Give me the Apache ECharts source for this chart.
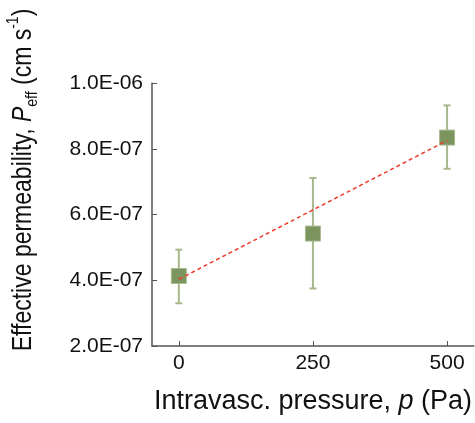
<!DOCTYPE html>
<html>
<head>
<meta charset="utf-8">
<script src="https://cdn.jsdelivr.net/npm/echarts@6/dist/echarts.min.js"></script>
<style>
html,body{margin:0;padding:0;background:#fff;}
#chart{width:475px;height:423px;}
</style>
</head>
<body>
<div id="chart"></div>
<script>
// Data
var pressures = [0, 250, 500];
var permeability = [4.13e-7, 5.42e-7, 8.34e-7];
var errLow = [3.30e-7, 3.75e-7, 7.39e-7];
var errHigh = [4.93e-7, 7.11e-7, 9.32e-7];
var fitX = [0, 500];
var fitY = [4.03e-7, 8.25e-7];
var xTickValues = [0, 250, 500];

function fmtSci(v) {
  if (v === 0) return '0';
  var e = Math.floor(Math.log10(Math.abs(v)) + 1e-9);
  var m = v / Math.pow(10, e);
  var sign = e < 0 ? '-' : '+';
  var ea = Math.abs(e);
  return m.toFixed(1) + 'E' + sign + (ea < 10 ? '0' + ea : '' + ea);
}

var chart = echarts.init(document.getElementById('chart'), null, {renderer: 'canvas'});
var font = 'Liberation Sans, Arial, Helvetica, sans-serif';
var axisColor = '#555555';
var textColor = '#111111';

var option = {
  backgroundColor: '#ffffff',
  animation: false,
  grid: {left: 152, width: 324, top: 83, bottom: 77, containLabel: false},
  xAxis: {
    type: 'value',
    min: -50,
    max: 550,
    name: '{n|Intravasc. pressure, }{i|p}{n| (Pa)}',
    nameLocation: 'middle',
    nameGap: 42,
    nameTextStyle: {
      rich: {
        n: {fontFamily: font, fontSize: 27, color: textColor},
        i: {fontFamily: font, fontSize: 27, color: textColor, fontStyle: 'italic'}
      }
    },
    splitLine: {show: false},
    axisLine: {show: true, onZero: false, lineStyle: {color: axisColor, width: 1.5}},
    axisTick: {show: true, inside: true, length: 5, customValues: xTickValues, lineStyle: {color: axisColor, width: 1}},
    axisLabel: {customValues: xTickValues, margin: 7, fontFamily: font, fontSize: 21, color: textColor}
  },
  yAxis: {
    type: 'value',
    min: 2e-7,
    max: 1e-6,
    interval: 2e-7,
    splitLine: {show: false},
    axisLine: {show: true, onZero: false, lineStyle: {color: axisColor, width: 1.5}},
    axisTick: {show: true, inside: true, length: 5, lineStyle: {color: axisColor, width: 1}},
    axisLabel: {margin: 9, fontFamily: font, fontSize: 21, color: textColor, formatter: fmtSci}
  },
  graphic: [{
    type: 'text',
    x: 23,
    y: 180,
    rotation: Math.PI / 2,
    scaleY: 1.2,
    style: {
      text: '{n|Effective permeability, }{i|P}{sub|eff}{n| (cm s}{sup|-1}{n|)}',
      align: 'center',
      verticalAlign: 'middle',
      rich: {
        n: {fontFamily: font, fontSize: 23, lineHeight: 30, fill: textColor, verticalAlign: 'middle'},
        i: {fontFamily: font, fontSize: 23, lineHeight: 30, fill: textColor, fontStyle: 'italic', verticalAlign: 'middle'},
        sub: {fontFamily: font, fontSize: 14, lineHeight: 14, fill: textColor, verticalAlign: 'bottom'},
        sup: {fontFamily: font, fontSize: 14, lineHeight: 14, fill: textColor, verticalAlign: 'top'}
      }
    }
  }],
  series: [
    {
      type: 'custom',
      name: 'errorbars',
      z: 1,
      renderItem: function (params, api) {
        var x = api.value(0);
        var lo = api.coord([x, api.value(1)]);
        var hi = api.coord([x, api.value(2)]);
        var cap = 3.5;
        var st = {stroke: '#a8b88c', lineWidth: 2};
        return {
          type: 'group',
          children: [
            {type: 'line', shape: {x1: lo[0], y1: lo[1], x2: hi[0], y2: hi[1]}, style: st},
            {type: 'line', shape: {x1: lo[0] - cap, y1: lo[1], x2: lo[0] + cap, y2: lo[1]}, style: st},
            {type: 'line', shape: {x1: hi[0] - cap, y1: hi[1], x2: hi[0] + cap, y2: hi[1]}, style: st}
          ]
        };
      },
      encode: {x: 0, y: [1, 2]},
      data: pressures.map(function (p, i) { return [p, errLow[i], errHigh[i]]; })
    },
    {
      type: 'scatter',
      name: 'measured',
      z: 2,
      symbol: 'rect',
      symbolSize: 15,
      itemStyle: {color: '#7c945e', borderColor: '#a9bb8e', borderWidth: 1, opacity: 1},
      data: pressures.map(function (p, i) { return [p, permeability[i]]; })
    },
    {
      type: 'line',
      name: 'fit',
      z: 3,
      symbol: 'none',
      lineStyle: {color: '#ee3a2c', width: 1.5, type: [4, 3]},
      data: fitX.map(function (x, i) { return [x, fitY[i]]; })
    }
  ]
};
chart.setOption(option);
</script>
</body>
</html>
